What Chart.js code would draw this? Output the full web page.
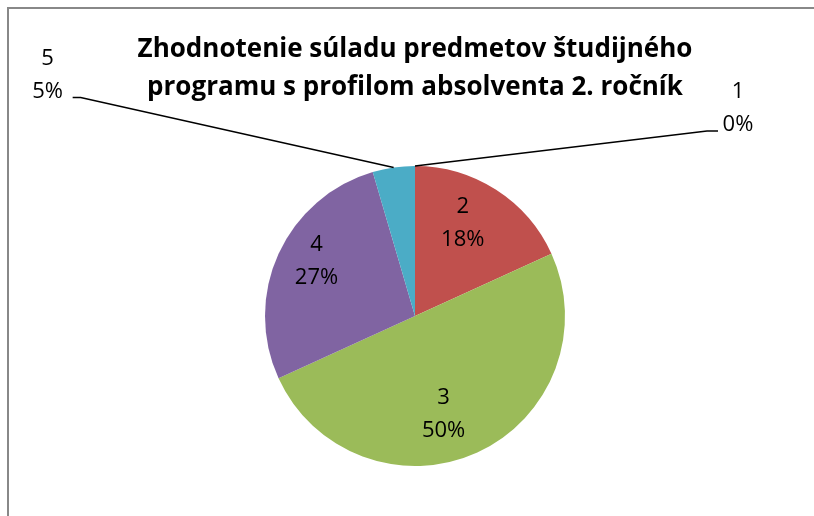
<!DOCTYPE html>
<html>
<head>
<meta charset="utf-8">
<title>Zhodnotenie súladu predmetov</title>
<script src="https://cdn.jsdelivr.net/npm/chart.js@4/dist/chart.umd.min.js"></script>
<style>
    body { margin: 0; background: #fff; }
    canvas { display: block; }
</style>
</head>
<body>
<canvas id="pieChart" width="814" height="516"></canvas>
<script>
const titleLines = ['Zhodnotenie súladu predmetov študijného', 'programu s profilom absolventa 2. ročník'];
const categories = ['1', '2', '3', '4', '5'];
const counts = [0, 4, 11, 6, 1];
const sliceColors = ['#4F81BD', '#C0504D', '#9BBB59', '#8064A2', '#4BACC6'];

const labelFont = '22px "Open Sans", "Noto Sans", sans-serif';

// frame of the chart object (only top and left edge are visible)
const framePlugin = {
    id: 'frame',
    beforeDraw(chart) {
        const ctx = chart.ctx;
        ctx.save();
        ctx.fillStyle = '#fff';
        ctx.fillRect(0, 0, chart.width, chart.height);
        ctx.strokeStyle = '#888';
        ctx.lineWidth = 2;
        ctx.beginPath();
        ctx.moveTo(8, chart.height + 5);
        ctx.lineTo(8, 8);
        ctx.lineTo(chart.width + 5, 8);
        ctx.stroke();
        ctx.restore();
    }
};

const pieLabels = {
    id: 'pieLabels',
    afterDatasetsDraw(chart, args, opts) {
        const ctx = chart.ctx;
        const meta = chart.getDatasetMeta(0);
        const total = counts.reduce((a, b) => a + b, 0);

        ctx.save();
        ctx.font = labelFont;
        ctx.fillStyle = '#000';
        ctx.textAlign = 'center';
        ctx.textBaseline = 'middle';

        meta.data.forEach((arc, i) => {
            const p = arc.getProps(['x', 'y', 'startAngle', 'endAngle', 'outerRadius'], true);
            const mid = (p.startAngle + p.endAngle) / 2;
            const pct = Math.round(counts[i] / total * 100) + '%';
            const out = opts.outside[i];

            if (out) {
                // leader line from the slice edge to the label
                const ax = p.x + Math.cos(mid) * p.outerRadius;
                const ay = p.y + Math.sin(mid) * p.outerRadius;
                const ex = ax + out.dx;
                const ey = ay + out.dy;
                ctx.strokeStyle = '#000';
                ctx.lineWidth = 1.5;
                ctx.beginPath();
                ctx.moveTo(ax, ay);
                ctx.lineTo(ex, ey);
                ctx.lineTo(ex + out.tail, ey);
                ctx.stroke();
                const tx = ex + out.tail + out.textDx;
                ctx.fillText(categories[i], tx, ey - 39);
                ctx.fillText(pct, tx, ey - 6);
            } else {
                const nudge = opts.nudge[i] || [0, 0];
                const r = p.outerRadius * 0.7;
                const tx = p.x + Math.cos(mid) * r + nudge[0];
                const ty = p.y + Math.sin(mid) * r + nudge[1];
                ctx.fillText(categories[i], tx, ty - 16);
                ctx.fillText(pct, tx, ty + 17);
            }
        });
        ctx.restore();
    }
};

const ctx = document.getElementById('pieChart').getContext('2d');

const pieChart = new Chart(ctx, {
    type: 'pie',
    data: {
        labels: categories,
        datasets: [{
            data: counts,
            backgroundColor: sliceColors,
            borderWidth: 0,
            hoverOffset: 0
        }]
    },
    options: {
        responsive: false,
        animation: false,
        layout: {
            padding: { left: 16, right: 0, top: 0, bottom: 50 }
        },
        plugins: {
            legend: { display: false },
            tooltip: { enabled: false },
            title: {
                display: true,
                text: titleLines,
                color: '#000',
                font: { family: '"Open Sans", "Noto Sans", sans-serif', size: 26, weight: 'bold', lineHeight: 38 / 26 },
                padding: { top: 31, bottom: 59 }
            },
            pieLabels: {
                nudge: { 1: [-9, -5], 2: [-15, 2], 3: [-3, -12] },
                outside: {
                    0: { dx: 292, dy: -35, tail: 11, textDx: 20 },
                    4: { dx: -313, dy: -70, tail: -8, textDx: -25 }
                }
            }
        }
    },
    plugins: [framePlugin, pieLabels]
});
</script>
</body>
</html>
